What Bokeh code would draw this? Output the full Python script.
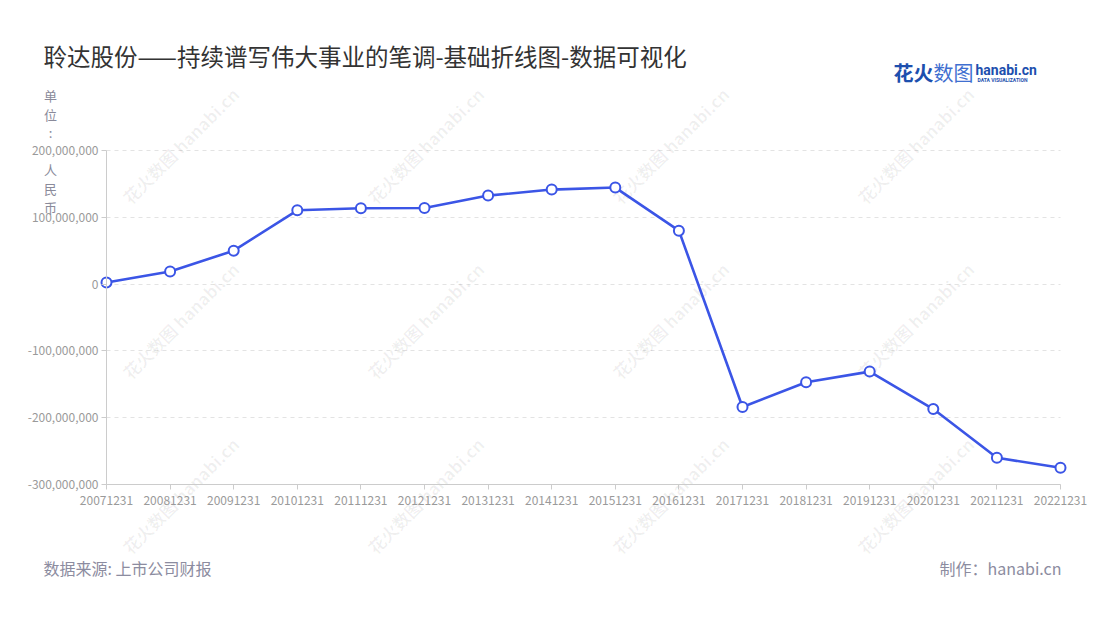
from bokeh.plotting import figure
from bokeh.models import Label, FixedTicker, NumeralTickFormatter, Range1d, ColumnDataSource
from bokeh.embed import file_html
from bokeh.resources import INLINE

categories = ["20071231", "20081231", "20091231", "20101231", "20111231", "20121231",
              "20131231", "20141231", "20151231", "20161231", "20171231", "20181231",
              "20191231", "20201231", "20211231", "20221231"]
values = [2.5e6, 19e6, 50e6, 110.5e6, 113.5e6, 114e6, 132.5e6, 141.5e6,
          144.5e6, 80e6, -184e6, -147e6, -131e6, -187e6, -260e6, -275e6]
y_ticks = [-300e6, -200e6, -100e6, 0, 100e6, 200e6]

title_text = "聆达股份——持续谱写伟大事业的笔调-基础折线图-数据可视化"
unit_chars = ["单", "位", ":", "", "人", "民", "币"]
source_text = "数据来源: 上市公司财报"
maker_text = "制作：hanabi.cn"

CJK = "Noto Sans CJK SC"
W, H = 1100, 620
# pixel box of the plotting area inside the canvas
FL, FR, FT, FB = 106, 1060, 150, 484

n = len(categories) - 1
ymin, ymax = y_ticks[0], y_ticks[-1]
xppu = (FR - FL) / n
yppu = (FB - FT) / (ymax - ymin)
x_range = Range1d(0 - FL / xppu, n + (W - FR) / xppu)
y_range = Range1d(ymin - (H - FB) / yppu, ymax + FT / yppu)

src = ColumnDataSource(dict(x=list(range(len(categories))), y=values))

p = figure(width=W, height=H, output_backend="svg", toolbar_location=None,
           x_range=x_range, y_range=y_range,
           min_border=0, min_border_left=0, min_border_right=0, min_border_top=0, min_border_bottom=0)
p.outline_line_color = None
p.background_fill_color = "white"
p.border_fill_color = "white"

# axes (placed inside the frame)
p.xaxis.fixed_location = ymin
p.yaxis.fixed_location = 0
p.xaxis.bounds = (0, n)
p.yaxis.bounds = (ymin, ymax)
p.xaxis.ticker = FixedTicker(ticks=list(range(len(categories))))
p.xaxis.major_label_overrides = {i: c for i, c in enumerate(categories)}
p.yaxis.ticker = FixedTicker(ticks=y_ticks)
p.yaxis.formatter = NumeralTickFormatter(format="0,0")
for ax in (p.xaxis, p.yaxis):
    ax.axis_line_color = "#cccccc"
    ax.major_tick_line_color = "#cccccc"
    ax.major_tick_in = 0
    ax.major_tick_out = 5
    ax.minor_tick_line_color = None
    ax.major_label_text_font = CJK
    ax.major_label_text_font_size = "12px"
    ax.major_label_text_color = "#9a9a9a"
p.xaxis.major_label_standoff = 6
p.yaxis.major_label_standoff = 3

p.xgrid.grid_line_color = None
p.ygrid.grid_line_color = "#e3e3e3"
p.ygrid.grid_line_dash = "4 4"
p.ygrid.grid_line_width = 1
p.ygrid.cross_bounds = (0, n)


def lab(x, y, text, **kw):
    p.add_layout(Label(x=x, y=y, x_units="canvas", y_units="canvas", text=text, **kw))


# watermarks
for wx in [180, 425, 670, 915]:
    for wy in [145, 320, 495]:
        lab(wx, wy, "花火数图 hanabi.cn", level="underlay", angle=45, angle_units="deg",
            text_align="center", text_baseline="middle", text_font=CJK, text_font_size="17px",
            text_font_style="bold", text_color="#000000", text_alpha=0.06)

p.line("x", "y", source=src, line_color="#3b55e6", line_width=2.6)
p.scatter("x", "y", source=src, size=10, fill_color="white", line_color="#3b55e6", line_width=2)

# title
lab(43, 55, title_text, text_font=CJK, text_font_size="23.5px", text_color="#333333",
    text_baseline="middle", text_align="left")

# unit label (vertical)
for i, ch in enumerate(unit_chars):
    if ch:
        lab(50, 95 + i * 18.6, ch, text_font=CJK, text_font_size="13px", text_color="#8a8a9a",
            text_baseline="middle", text_align="center")

# logo
lab(893, 72, "花火", text_font=CJK, text_font_size="20px", text_font_style="bold", text_color="#1d4fae",
    text_baseline="middle", text_align="left")
lab(933, 72, "数图", text_font=CJK, text_font_size="20px", text_color="#3f6fd0",
    text_baseline="middle", text_align="left")
lab(975, 69, "hanabi.cn", text_font="Roboto", text_font_size="14px", text_font_style="bold",
    text_color="#1d4fae", text_baseline="middle", text_align="left")
lab(977, 79, "DATA VISUALIZATION", text_font="Roboto", text_font_size="5px", text_font_style="bold",
    text_color="#1d4fae", text_baseline="middle", text_align="left")

# footer
lab(43, 567, source_text, text_font=CJK, text_font_size="16px", text_color="#8c8ca0",
    text_baseline="middle", text_align="left")
lab(1061, 567, maker_text, text_font=CJK, text_font_size="16px", text_color="#8c8ca0",
    text_baseline="middle", text_align="right")

open("out.html", "w").write(file_html(p, INLINE))
